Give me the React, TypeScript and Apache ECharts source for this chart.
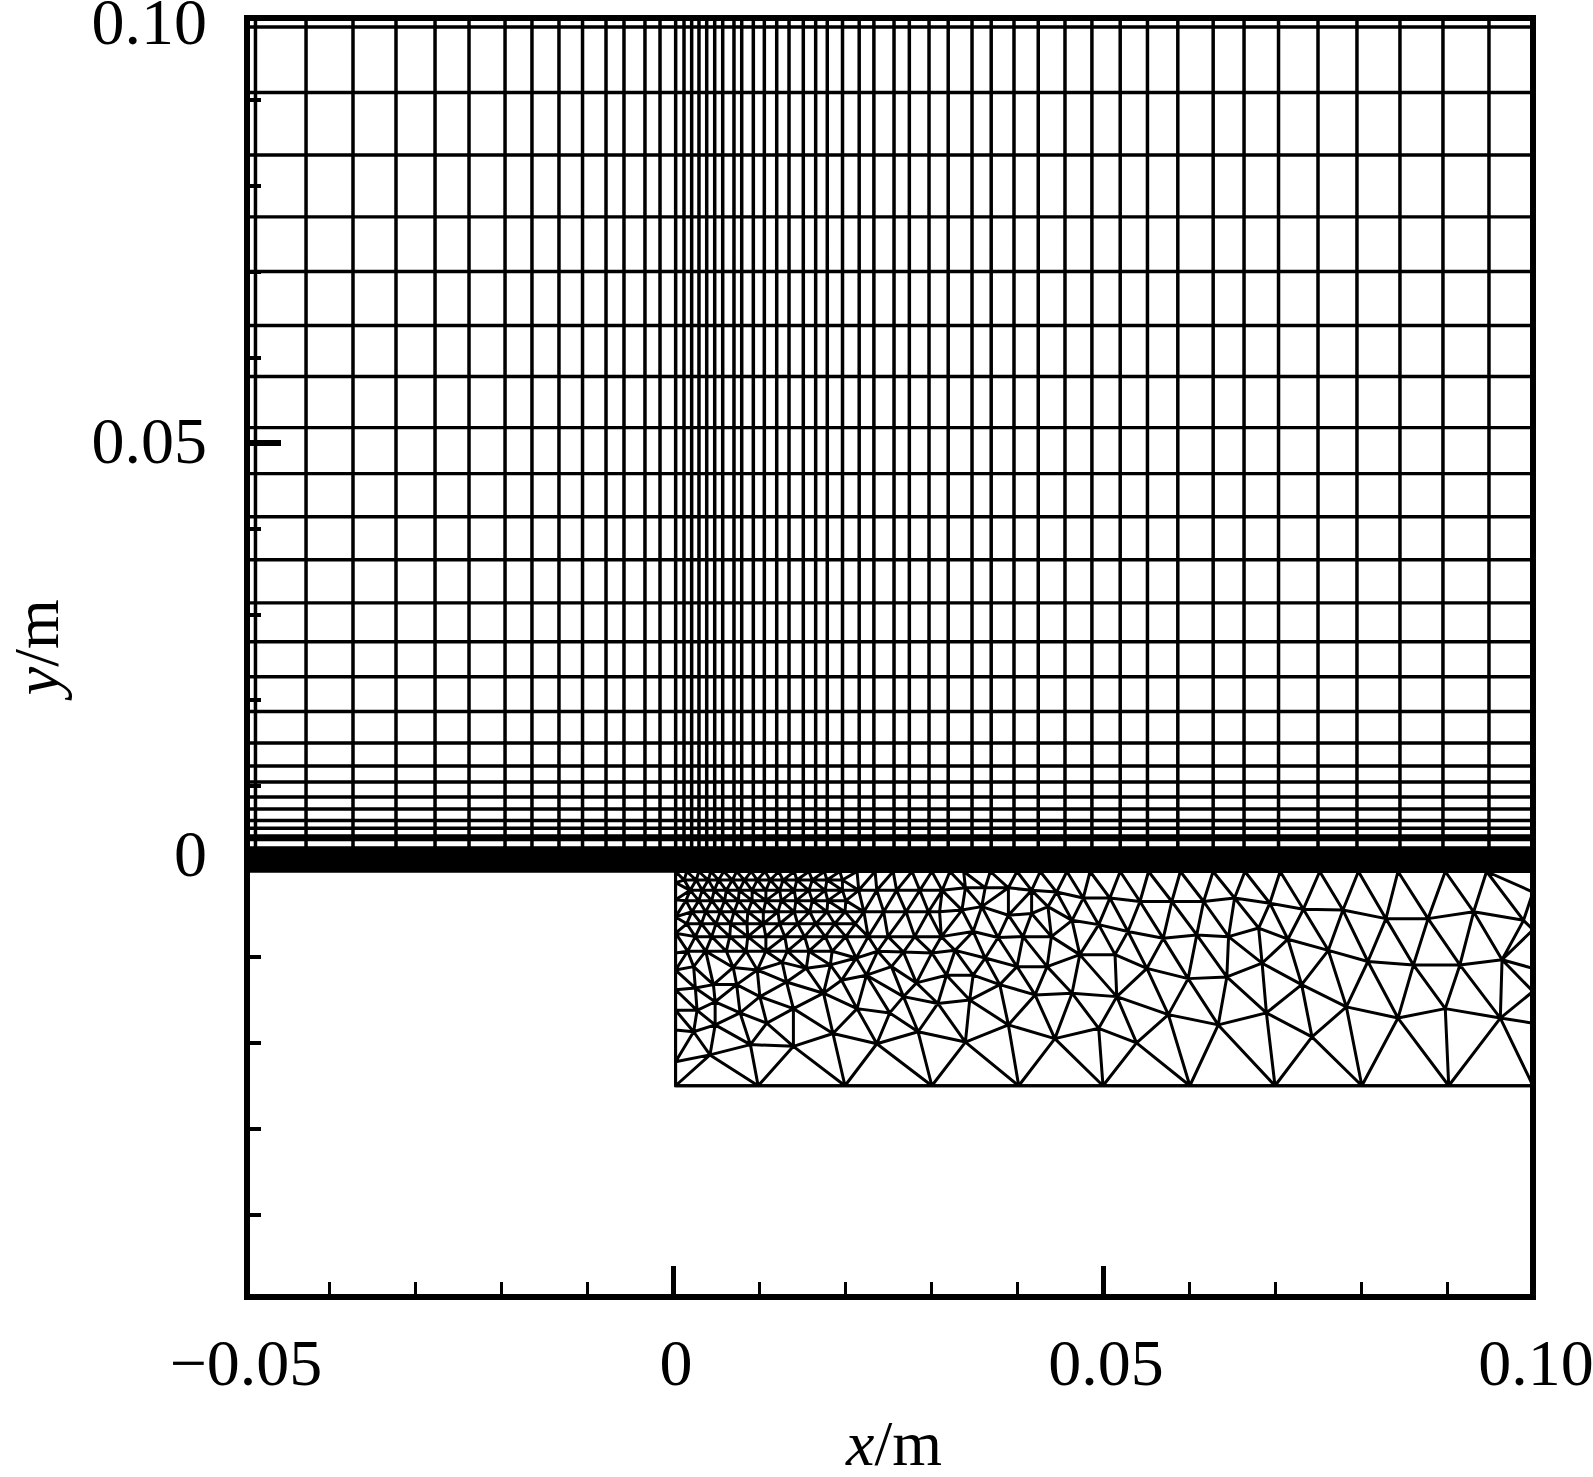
import React, { useEffect, useRef } from "react";
import * as echarts from "echarts";

const gridLeftEdge = -49.6;
const gridRightEdge = 100;
const gridTopEdge = 99.6;
const meshLeft = 0.3;
const meshRight = 100;
const meshBottom = -25;

const verticalLines = [
  -48.55, -42.67, -37.21, -32.21, -27.67, -23.72, -19.53, -16.4, -13.26, -10.52, -7.79, -5.7, -3.26, -1.51,
  0.31, 1.28, 2.17, 3.02, 3.92, 4.85, 5.78, 7.09, 7.99, 9.34, 10.62, 12.06, 13.49, 15.15, 16.59, 17.94,
  19.71, 21.65, 23.36, 25.7, 27.48, 29.77, 32.0, 34.77, 37.0, 39.65, 42.47, 45.58, 48.71, 52.0, 55.17,
  58.7, 62.81, 66.4, 70.41, 75.0, 79.53, 84.53, 89.53, 94.88,
];

const horizontalLines = [
  98.54, 90.9, 83.61, 76.38, 70.01, 63.71, 57.76, 51.79, 46.43, 41.4, 36.38, 31.35, 26.8, 22.72, 18.67, 14.99,
  12.31, 10.44, 8.69, 7.29, 5.95, 5.04, 4.14, 3.73, 2.74, 2.39, 2.04, 1.69, 1.34, 0.99, 0.64, 0.29, 0.06,
];

const topEdgeX = [
  0.3, 1.6, 3.0, 4.4, 5.9, 7.4, 9.1, 10.7, 12.3, 14.1, 15.8, 17.6, 19.4, 21.4, 23.5, 25.6, 27.8, 30.1, 32.2,
  33.8, 36.9, 40.0, 42.7, 45.8, 48.5, 52.0, 55.3, 59.0, 62.8, 66.5, 70.6, 75.2, 79.7, 84.3, 89.8, 94.6, 100,
];
const leftEdgeY = [-1.3, -3.3, -5.3, -7.2, -9.5, -11.5, -13.8, -16.2, -18.5, -22.2, -25];
const rightEdgeY = [-2.4, -6.8, -11.3, -14.0, -17.7, -25];
const bottomEdgeX = [9.9, 20.0, 30.1, 40.2, 50.0, 60.1, 70.0, 80.1, 90.2];

const denseRow1 = [1.3, 2.7, 4.1, 5.3, 6.9, 8.3, 9.8, 11.3, 12.8, 14.4, 16.2, 17.9, 19.7];
const denseRow2 = [2.0, 3.4, 4.8, 6.2, 7.7, 9.2, 10.8, 12.4, 14.1, 15.8, 17.7, 19.7, 21.6, 23.7, 26.0, 28.7, 31.3];
const denseRow3 = [1.5, 3.0, 4.5, 6.0, 7.6, 9.2, 10.8, 12.6, 14.3, 16.2, 18.0, 20.1];
const denseRow4 = [2.2, 3.8, 5.5, 7.1, 8.7, 10.5, 12.2, 14.1, 15.9, 17.9, 20.0, 22.2, 24.5, 27.1, 29.7, 31.0];
const denseRow5 = [1.6, 3.3, 5.0, 6.7, 8.6, 10.5, 12.4, 14.5, 16.6, 18.8, 21.2];
const denseRow6 = [2.6, 4.5, 6.6, 8.7, 10.8, 13.0, 15.3, 17.7, 20.1, 22.7, 25.0, 28.1, 31.2];
const denseRow7 = [1.7, 3.8, 6.2, 8.5, 10.8, 13.3, 15.8, 18.5, 23.8];

const lowerLeftNodes = [
  [4.3, -21.4], [9.0, -20.2], [14.0, -20.4], [18.6, -18.9], [23.7, -20.1], [28.5, -18.7],
  [2.4, -18.7], [4.9, -17.9], [2.8, -16.2], [7.8, -16.5], [10.9, -17.7], [14.0, -16.0], [17.5, -14.2],
  [21.4, -16.0], [25.2, -16.5], [26.8, -14.6], [30.8, -15.4], [2.6, -13.6], [4.9, -15.2], [2.4, -11.1],
  [4.7, -13.2], [10.1, -14.6], [13.2, -12.9], [15.5, -11.3], [19.6, -12.7], [22.5, -12.1], [25.4, -11.1],
  [28.3, -13.0], [31.8, -12.1], [30.1, -9.5], [26.8, -9.4], [7.4, -13.2], [7.0, -11.2], [9.8, -11.5],
  [12.7, -10.6], [18.3, -10.9], [21.3, -10.1],
];

const middleNodes = [
  [34.0, -1.9], [36.3, -1.9], [39.0, -1.9], [41.7, -2.2], [44.6, -2.4], [47.7, -3.1], [50.8, -3.1], [54.3, -3.5],
  [58.0, -3.5], [61.7, -3.5], [65.3, -3.1],
  [33.6, -4.5], [35.9, -4.1], [39.0, -5.1], [41.7, -4.9], [43.6, -4.1], [46.4, -5.7], [49.5, -6.2], [52.9, -7.0],
  [57.0, -7.8], [60.9, -7.4], [64.6, -7.6],
  [34.9, -7.0], [37.8, -7.7], [40.7, -7.6], [44.0, -7.6], [47.3, -9.7], [51.4, -9.7], [55.1, -11.3], [59.9, -12.5],
  [64.4, -12.3],
  [32.8, -9.2], [36.3, -10.1], [40.0, -11.1], [43.5, -11.1],
  [34.9, -12.1], [38.0, -13.2], [42.1, -14.4], [46.4, -14.2], [51.6, -14.6], [57.6, -16.7], [63.4, -17.9],
  [34.5, -15.0], [39.0, -17.9], [44.4, -19.5], [49.5, -18.3], [53.9, -20.0], [34.0, -19.9],
];

const rightNodes = [
  [69.4, -3.7], [73.3, -4.4], [77.9, -4.5], [82.9, -5.5], [87.8, -5.5], [93.1, -4.7], [98.9, -5.7],
  [68.1, -6.6], [71.5, -7.9], [76.2, -9.2], [80.8, -10.5], [86.1, -10.9], [91.5, -10.9], [96.4, -10.3],
  [68.5, -10.7], [73.1, -13.2], [78.3, -15.8], [84.3, -17.1], [89.8, -16.0], [96.2, -17.1],
  [69.0, -16.5], [74.3, -19.3],
];

const xLabelValues = [-0.05, 0, 0.05, 0.1];
const xLabelTexts = ["\u22120.05", "0", "0.05", "0.10"];
const xMajorTicks = [0, 0.05];
const xMinorTicks = [-0.04, -0.03, -0.02, -0.01, 0.01, 0.02, 0.03, 0.04, 0.06, 0.07, 0.08, 0.09];
const yLabelValues = [0, 0.05, 0.1];
const yMajorTicks = [0.05];
const yMinorTicks = [-0.04, -0.03, -0.02, -0.01, 0.01, 0.02, 0.03, 0.04, 0.06, 0.07, 0.08, 0.09];

const rowOf = (y: number, xs: number[]) => xs.map((x) => [x, y]);

const meshNodes: number[][] = [
  ...rowOf(0, topEdgeX),
  ...leftEdgeY.map((y) => [meshLeft, y]),
  ...rightEdgeY.map((y) => [meshRight, y]),
  ...rowOf(meshBottom, bottomEdgeX),
  ...rowOf(-1.0, denseRow1),
  ...rowOf(-2.2, denseRow2),
  ...rowOf(-3.4, denseRow3),
  ...rowOf(-4.7, denseRow4),
  ...rowOf(-6.1, denseRow5),
  ...rowOf(-7.6, denseRow6),
  ...rowOf(-9.3, denseRow7),
  ...lowerLeftNodes,
  ...middleNodes,
  ...rightNodes,
];

// Connects the nodes (Bowyer-Watson).
function triangulate(points: number[][]): number[][] {
  const pts = points.concat([[-1e5, -1e5], [2e5, -1e5], [0, 2e5]]);
  const n = points.length;
  type Tri = { a: number; b: number; c: number; ux: number; uy: number; r2: number };
  const make = (a: number, b: number, c: number): Tri | null => {
    const [ax, ay] = pts[a];
    const [bx, by] = pts[b];
    const [cx, cy] = pts[c];
    const d = 2 * (ax * (by - cy) + bx * (cy - ay) + cx * (ay - by));
    if (Math.abs(d) < 1e-9) return null;
    const aa = ax * ax + ay * ay;
    const bb = bx * bx + by * by;
    const cc = cx * cx + cy * cy;
    const ux = (aa * (by - cy) + bb * (cy - ay) + cc * (ay - by)) / d;
    const uy = (aa * (cx - bx) + bb * (ax - cx) + cc * (bx - ax)) / d;
    return { a, b, c, ux, uy, r2: (ax - ux) ** 2 + (ay - uy) ** 2 };
  };
  let tris: Tri[] = [make(n, n + 1, n + 2)!];
  for (let i = 0; i < n; i++) {
    const [px, py] = pts[i];
    const keep: Tri[] = [];
    const edges = new Map<string, number[]>();
    const addEdge = (u: number, v: number) => {
      const k = u < v ? `${u}_${v}` : `${v}_${u}`;
      if (edges.has(k)) edges.set(k, []);
      else edges.set(k, [u, v]);
    };
    for (const t of tris) {
      if ((px - t.ux) ** 2 + (py - t.uy) ** 2 < t.r2 * (1 + 1e-12)) {
        addEdge(t.a, t.b);
        addEdge(t.b, t.c);
        addEdge(t.c, t.a);
      } else keep.push(t);
    }
    edges.forEach((e) => {
      if (e.length) {
        const t = make(e[0], e[1], i);
        if (t) keep.push(t);
      }
    });
    tris = keep;
  }
  const seen = new Set<string>();
  const out: number[][] = [];
  for (const t of tris) {
    const pairs = [[t.a, t.b], [t.b, t.c], [t.c, t.a]];
    for (const [u, v] of pairs) {
      if (u >= n || v >= n) continue;
      const k = u < v ? `${u}_${v}` : `${v}_${u}`;
      if (seen.has(k)) continue;
      seen.add(k);
      out.push([u, v]);
    }
  }
  return out;
}

const toM = (p: number[]) => [p[0] / 1000, p[1] / 1000];
const gap = [null, null];

const verticalData = verticalLines.flatMap((x) => [toM([x, 0]), toM([x, gridTopEdge]), gap]);
const horizontalData = horizontalLines.flatMap((y) => [toM([gridLeftEdge, y]), toM([gridRightEdge, y]), gap]);
const meshOutline = [[meshLeft, 0], [meshLeft, meshBottom], [meshRight, meshBottom]].map(toM);
const meshEdges = triangulate(meshNodes).flatMap(([u, v]) => [toM(meshNodes[u]), toM(meshNodes[v]), gap]);

const FONT = "'Liberation Serif', 'Times New Roman', serif";
const FS = 66;
const TITLE_FS = 64;

const lineSeries = (name: string, data: any[], width: number) => ({
  name,
  type: "line",
  xAxisIndex: 0,
  yAxisIndex: 0,
  data,
  symbol: "none",
  showSymbol: false,
  connectNulls: false,
  silent: true,
  lineStyle: { color: "#000", width, cap: "butt", join: "miter", miterLimit: 2 },
});

const hiddenLine = { show: false, onZero: false };

export default function App() {
  const ref = useRef<HTMLDivElement>(null);
  useEffect(() => {
    const chart = echarts.init(ref.current!, null, { renderer: "svg" });
    chart.setOption({
      animation: false,
      backgroundColor: "#fff",
      grid: [
        { left: 243, right: 60, top: 14.5, bottom: 177, show: false, containLabel: false, outerBoundsMode: "none" },
        { left: 247, right: 60, top: 18, bottom: 180, show: true, borderColor: "#000", borderWidth: 6, backgroundColor: "transparent", containLabel: false, outerBoundsMode: "none" },
      ],
      xAxis: [
        {
          type: "value",
          gridIndex: 0,
          min: -0.05,
          max: 0.1,
          position: "bottom",
          axisLine: hiddenLine,
          splitLine: { show: false },
          axisTick: { show: true, inside: true, length: 34, customValues: xMajorTicks, lineStyle: { color: "#000", width: 5 } },
          axisLabel: {
            show: true,
            margin: 29,
            color: "#000",
            fontFamily: FONT,
            fontSize: FS,
            padding: [0, 0, 0, 6],
            customValues: xLabelValues,
            formatter: (v: number) => xLabelTexts[xLabelValues.findIndex((x) => Math.abs(x - v) < 1e-9)] ?? "",
          },
          name: "{i|x}/m",
          nameLocation: "middle",
          nameGap: 111,
          nameTextStyle: {
            color: "#000",
            fontFamily: FONT,
            fontSize: TITLE_FS,
            padding: [0, 0, 0, 12],
            rich: { i: { fontStyle: "italic", fontFamily: FONT, fontSize: TITLE_FS, color: "#000" } },
          },
        },
        {
          type: "value",
          gridIndex: 0,
          min: -0.05,
          max: 0.1,
          position: "bottom",
          axisLine: hiddenLine,
          splitLine: { show: false },
          axisLabel: { show: false },
          axisTick: { show: true, inside: true, length: 18, customValues: xMinorTicks, lineStyle: { color: "#000", width: 3 } },
        },
        { type: "value", gridIndex: 1, show: false, min: 0, max: 1 },
      ],
      yAxis: [
        {
          type: "value",
          gridIndex: 0,
          min: -0.05,
          max: 0.1,
          position: "left",
          offset: -5,
          axisLine: hiddenLine,
          splitLine: { show: false },
          axisTick: { show: true, inside: true, length: 33, customValues: yMajorTicks, lineStyle: { color: "#000", width: 6 } },
          axisLabel: {
            show: true,
            margin: 41,
            color: "#000",
            fontFamily: FONT,
            fontSize: FS,
            customValues: yLabelValues,
            formatter: (v: number) => (Math.abs(v) < 1e-9 ? "{z|0}" : v > 0.09 ? "{t|0.10}" : "{c|0.05}"),
            rich: {
              z: { fontFamily: FONT, fontSize: FS, color: "#000", padding: [0, 0, 37, 0] },
              t: { fontFamily: FONT, fontSize: FS, color: "#000", padding: [14, 0, 0, 0] },
              c: { fontFamily: FONT, fontSize: FS, color: "#000", padding: [0, 0, 6, 0] },
            },
          },
          name: "{i|y}/m",
          nameLocation: "middle",
          nameGap: 180,
          nameTextStyle: {
            color: "#000",
            fontFamily: FONT,
            fontSize: TITLE_FS,
            padding: [0, 0, 0, 20],
            rich: { i: { fontStyle: "italic", fontFamily: FONT, fontSize: TITLE_FS, color: "#000" } },
          },
        },
        {
          type: "value",
          gridIndex: 0,
          min: -0.05,
          max: 0.1,
          position: "left",
          offset: -5,
          axisLine: hiddenLine,
          splitLine: { show: false },
          axisLabel: { show: false },
          axisTick: { show: true, inside: true, length: 13, customValues: yMinorTicks, lineStyle: { color: "#000", width: 4 } },
        },
        { type: "value", gridIndex: 1, show: false, min: 0, max: 1 },
      ],
      series: [
        lineSeries("horizontal grid lines", horizontalData, 3.4),
        lineSeries("vertical grid lines", verticalData, 3.5),
        lineSeries("mesh edges", meshEdges, 3),
        lineSeries("mesh outline", meshOutline, 3),
      ],
    });
    return () => chart.dispose();
  }, []);
  return <div ref={ref} style={{ position: "absolute", left: 0, top: 0, width: 1593, height: 1477 }} />;
}
